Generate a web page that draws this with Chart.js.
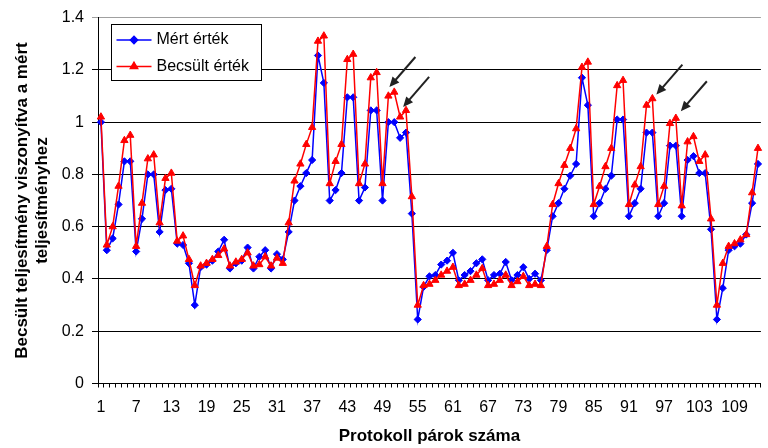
<!DOCTYPE html>
<html lang="hu">
<head>
<meta charset="utf-8">
<title>Becsült és mért teljesítmény</title>
<script src="https://cdn.jsdelivr.net/npm/chart.js@4/dist/chart.umd.min.js"></script>
<style>
  html, body { margin: 0; padding: 0; background: #fff; overflow: hidden; }
  canvas { display: block; }
</style>
</head>
<body>
<canvas id="grafikon" width="768" height="448"></canvas>
<script>
// protokoll párok: 1..113
const kategoriak = Array.from({ length: 113 }, (_, i) => String(i + 1));

const mert = [
  1.00, 0.51, 0.555, 0.685, 0.85, 0.85, 0.505, 0.63, 0.80, 0.80,
  0.58, 0.74, 0.745, 0.535, 0.53, 0.46, 0.30, 0.445, 0.455, 0.47,
  0.505, 0.55, 0.44, 0.46, 0.47, 0.52, 0.44, 0.485, 0.51, 0.44,
  0.495, 0.475, 0.58, 0.70, 0.755, 0.805, 0.855, 1.255, 1.15, 0.70,
  0.74, 0.805, 1.095, 1.095, 0.70, 0.75, 1.045, 1.045, 0.70, 1.00,
  1.00, 0.94, 0.96, 0.65, 0.245, 0.37, 0.41, 0.415, 0.455, 0.47,
  0.50, 0.395, 0.415, 0.43, 0.46, 0.475, 0.395, 0.415, 0.42, 0.465,
  0.395, 0.415, 0.445, 0.40, 0.42, 0.395, 0.51, 0.64, 0.69, 0.745,
  0.795, 0.84, 1.17, 1.065, 0.64, 0.69, 0.745, 0.795, 1.01, 1.01,
  0.64, 0.69, 0.745, 0.96, 0.96, 0.64, 0.69, 0.91, 0.91, 0.64,
  0.855, 0.87, 0.805, 0.805, 0.59, 0.245, 0.365, 0.51, 0.525, 0.535,
  0.57, 0.69, 0.84
];

const becsult = [
  1.02, 0.53, 0.60, 0.755, 0.93, 0.95, 0.525, 0.69, 0.86, 0.875,
  0.615, 0.785, 0.805, 0.545, 0.565, 0.475, 0.375, 0.45, 0.46, 0.475,
  0.49, 0.515, 0.45, 0.465, 0.475, 0.50, 0.45, 0.455, 0.485, 0.45,
  0.48, 0.46, 0.615, 0.775, 0.84, 0.915, 0.98, 1.31, 1.33, 0.765,
  0.85, 0.915, 1.24, 1.26, 0.765, 0.84, 1.17, 1.19, 0.765, 1.10,
  1.115, 1.02, 1.045, 0.715, 0.30, 0.375, 0.38, 0.395, 0.415, 0.43,
  0.445, 0.375, 0.38, 0.395, 0.415, 0.44, 0.375, 0.38, 0.395, 0.415,
  0.375, 0.39, 0.41, 0.375, 0.38, 0.375, 0.525, 0.685, 0.765, 0.835,
  0.90, 0.975, 1.21, 1.23, 0.685, 0.755, 0.83, 0.90, 1.14, 1.16,
  0.685, 0.76, 0.83, 1.065, 1.09, 0.685, 0.755, 0.995, 1.015, 0.68,
  0.925, 0.945, 0.85, 0.875, 0.63, 0.30, 0.46, 0.525, 0.535, 0.55,
  0.57, 0.73, 0.90
];

const yTicks = [0, 0.2, 0.4, 0.6, 0.8, 1, 1.2, 1.4];

// nyilak a Becsült érték pontjaira (pont sorszáma + eltolás a ponthoz képest)
const nyilak = [
  { pont: 50, dx: 1, dy: -9 },
  { pont: 52, dx: 3, dy: -10 },
  { pont: 95, dx: 4, dy: -4 },
  { pont: 99, dx: 5, dy: -7 }
];

const FONT = "'Liberation Sans', Arial, Helvetica, sans-serif";
Chart.defaults.font.family = FONT;
Chart.defaults.color = "#000";

const kek = { pointStyle: "rectRot", radius: 3.6, backgroundColor: "#0000ff", borderColor: "#0000ff", borderWidth: 1 };
const piros = { pointStyle: "triangle", radius: 4.2, backgroundColor: "#ff0000", borderColor: "#ff0000", borderWidth: 1 };

const jelmagyarazat = {
  id: "jelmagyarazat",
  afterDraw(chart) {
    const c = chart.ctx;
    const x = 111.5, y = 24.5, w = 150, h = 56;
    c.save();
    c.fillStyle = "#fff";
    c.fillRect(x, y, w, h);
    c.strokeStyle = "#000";
    c.lineWidth = 1;
    c.strokeRect(x, y, w, h);

    const sorok = [
      { szoveg: "Mért érték", szin: "#0000ff", pont: kek, y: y + 15.5 },
      { szoveg: "Becsült érték", szin: "#ff0000", pont: piros, y: y + 42 }
    ];
    sorok.forEach((s) => {
      c.strokeStyle = s.szin;
      c.lineWidth = 1.5;
      c.beginPath();
      c.moveTo(x + 5, s.y);
      c.lineTo(x + 40, s.y);
      c.stroke();
      Chart.helpers.drawPoint(c, {
        pointStyle: s.pont.pointStyle,
        radius: s.pont.radius,
        borderWidth: 1
      }, x + 22.5, s.y);
      c.fillStyle = s.szin;
      c.strokeStyle = s.szin;
      c.fill();
      c.fillStyle = "#000";
      c.font = "16px " + FONT;
      c.textBaseline = "middle";
      c.fillText(s.szoveg, x + 45, s.y);
    });
    c.restore();
  }
};

const nyilPlugin = {
  id: "nyilak",
  afterDraw(chart) {
    const c = chart.ctx;
    const xs = chart.scales.x;
    const ys = chart.scales.y;
    c.save();
    c.strokeStyle = "#222";
    c.fillStyle = "#222";
    c.lineWidth = 2;
    nyilak.forEach((n) => {
      const hx = xs.getPixelForValue(n.pont - 1) + n.dx;
      const hy = ys.getPixelForValue(becsult[n.pont - 1]) + n.dy;
      const tx = hx + 26;
      const ty = hy - 30;
      const ang = Math.atan2(hy - ty, hx - tx);
      c.beginPath();
      c.moveTo(tx, ty);
      c.lineTo(hx - Math.cos(ang) * 6, hy - Math.sin(ang) * 6);
      c.stroke();
      c.beginPath();
      c.moveTo(hx, hy);
      c.lineTo(hx - 10 * Math.cos(ang) + 4.5 * Math.sin(ang), hy - 10 * Math.sin(ang) - 4.5 * Math.cos(ang));
      c.lineTo(hx - 10 * Math.cos(ang) - 4.5 * Math.sin(ang), hy - 10 * Math.sin(ang) + 4.5 * Math.cos(ang));
      c.closePath();
      c.fill();
    });
    c.restore();
  }
};

const ctx = document.getElementById("grafikon");

new Chart(ctx, {
  type: "line",
  data: {
    labels: kategoriak,
    datasets: [
      {
        label: "Mért érték",
        data: mert,
        borderColor: "#0000ff",
        borderWidth: 1.5,
        pointStyle: kek.pointStyle,
        pointRadius: kek.radius,
        pointBackgroundColor: kek.backgroundColor,
        pointBorderColor: kek.borderColor,
        pointBorderWidth: 1,
        tension: 0,
        order: 2
      },
      {
        label: "Becsült érték",
        data: becsult,
        borderColor: "#ff0000",
        borderWidth: 1.5,
        pointStyle: piros.pointStyle,
        pointRadius: piros.radius,
        pointBackgroundColor: piros.backgroundColor,
        pointBorderColor: piros.borderColor,
        pointBorderWidth: 1,
        tension: 0,
        order: 1
      }
    ]
  },
  options: {
    responsive: false,
    animation: false,
    layout: { padding: { top: 16.5, right: 0, bottom: 0, left: 0 } },
    plugins: {
      legend: { display: false },
      tooltip: { enabled: false }
    },
    scales: {
      x: {
        type: "category",
        offset: true,
        grid: {
          offset: true,
          drawOnChartArea: false,
          drawTicks: true,
          tickLength: 4,
          color: "#000"
        },
        border: { color: "#000", width: 1 },
        ticks: {
          autoSkip: false,
          maxRotation: 0,
          minRotation: 0,
          padding: 10,
          color: "#000",
          font: { size: 16 },
          callback: function (v, i) {
            return i % 6 === 0 ? this.getLabelForValue(v) : "";
          }
        },
        title: {
          display: true,
          text: "Protokoll párok száma",
          color: "#000",
          font: { size: 17, weight: "bold" },
          padding: { top: 0, bottom: 1 }
        },
        afterFit: (s) => { s.height = 64.5; }
      },
      y: {
        min: 0,
        max: 1.4,
        afterBuildTicks: (s) => { s.ticks = yTicks.map((v) => ({ value: v })); },
        grid: {
          color: (c) => (c.tick && c.tick.value === 1.4 ? "#a0a0a0" : "#000"),
          lineWidth: 1,
          tickLength: 6
        },
        border: { color: "#000", width: 1 },
        ticks: {
          padding: 8,
          color: "#000",
          font: { size: 16 },
          callback: (v) => String(+v.toFixed(1))
        },
        title: {
          display: true,
          text: ["Becsült teljesítmény viszonyítva a mért", "teljesítményhez"],
          color: "#000",
          font: { size: 17, weight: "bold", lineHeight: 1.15 },
          padding: { top: 13, bottom: 0 }
        },
        afterFit: (s) => { s.width = 98; }
      }
    }
  },
  plugins: [nyilPlugin, jelmagyarazat]
});
</script>
</body>
</html>
